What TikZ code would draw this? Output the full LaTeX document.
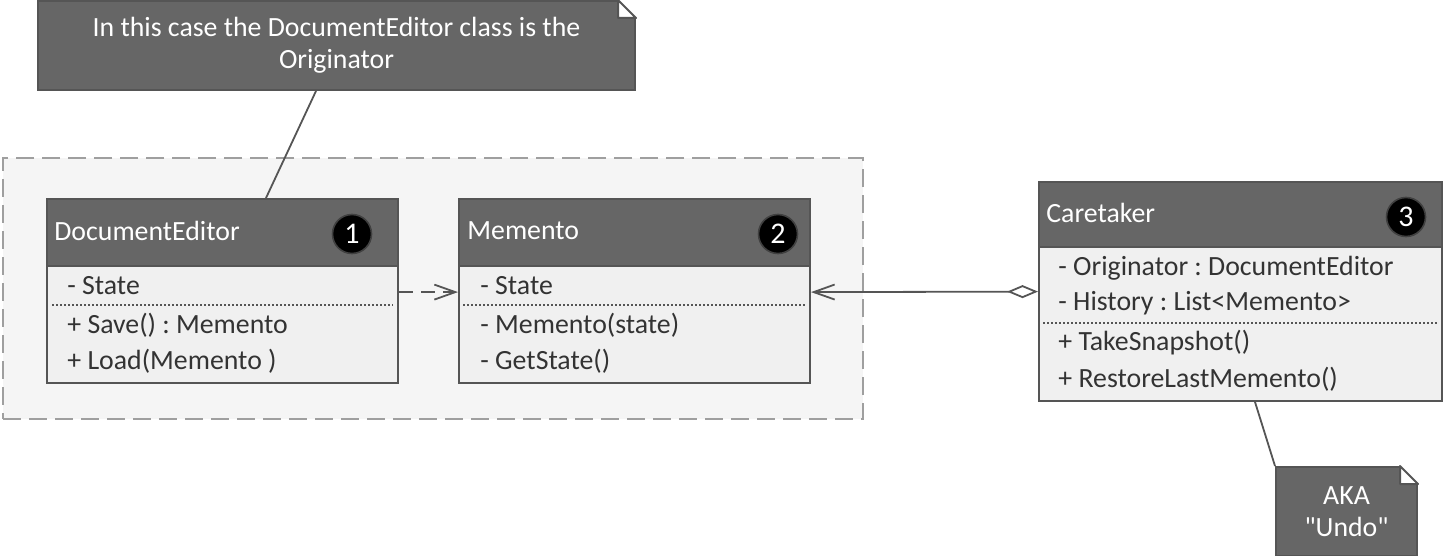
\documentclass[tikz,border=0pt]{standalone}
\usepackage{fontspec}
\setmainfont{Carlito}
\usepackage{tikz}
\usetikzlibrary{arrows.meta}
\usepackage{xcolor}
\definecolor{hdr}{HTML}{666666}
\definecolor{edge}{HTML}{555555}
\definecolor{bodyfill}{HTML}{F0F0F0}
\definecolor{grpfill}{HTML}{F5F5F5}
\definecolor{ink}{HTML}{333333}
\frenchspacing

\tikzset{
  hdrbox/.style={draw=edge, line width=1pt, fill=hdr, anchor=north west, inner sep=0pt},
  bodybox/.style={draw=edge, line width=1pt, fill=bodyfill, anchor=north west, inner sep=0pt},
  title/.style={anchor=west, inner sep=0pt, text=white},
  member/.style={anchor=west, inner sep=0pt, text=ink},
  badge/.style={circle, fill=black, draw=black!75, line width=0.8pt, minimum size=19.5pt, inner sep=0pt, text=white, font=\fontsize{15}{16}\selectfont},
  notebox/.style={draw=edge, line width=1pt, fill=hdr, anchor=north west, inner sep=0pt, text=white, align=center},
  sep/.style={draw=edge, line width=0.6pt, dash pattern=on 1pt off 1pt},
  link/.style={draw=edge, line width=0.9pt},
  barb/.tip={Straight Barb[length=10.5pt, width=7.5pt]},
}

\begin{document}
\begin{tikzpicture}[x=0.5pt, y=-0.5pt, font=\fontsize{13.9}{16}\selectfont]
\useasboundingbox (0,0) rectangle (1444,556);

\node (grp) [draw=gray!75, line width=1pt, dash pattern=on 9pt off 4pt, fill=grpfill,
  anchor=north west, inner sep=0pt, minimum width=430pt, minimum height=130.5pt] at (2,157) {};

\node (de) [hdrbox, minimum width=175.5pt, minimum height=33.5pt] at (46,198) {};
\node (de-body) [bodybox, minimum width=175.5pt, minimum height=58.5pt] at (46,265) {};
\node (de-title) [title] at (54,231) {DocumentEditor};
\node (de-badge) [badge] at (352,234) {1};
\foreach \y/\t [count=\k] in {286/- State, 325/+ Save() : Memento, 361/+ Load(Memento )}
    \node (de-m\k) [member] at (67,\y) {\t};
\draw[sep] (52,305) -- (393,305);

\node (me) [hdrbox, minimum width=175.5pt, minimum height=33.5pt] at (458,198) {};
\node (me-body) [bodybox, minimum width=175.5pt, minimum height=58.5pt] at (458,265) {};
\node (me-title) [title] at (467,231) {Memento};
\node (me-badge) [badge] at (778,234) {2};
\foreach \y/\t [count=\k] in {286/- State, 325/- Memento(state), 361/- GetState()}
    \node (me-m\k) [member] at (480,\y) {\t};
\draw[sep] (463,305) -- (805,305);

\node (ct) [hdrbox, minimum width=201.5pt, minimum height=32.5pt] at (1038,181) {};
\node (ct-body) [bodybox, minimum width=201.5pt, minimum height=77pt] at (1038,246) {};
\node (ct-title) [title] at (1046,213) {Caretaker};
\node (ct-badge) [badge] at (1406,217) {3};
\foreach \y/\t [count=\k] in {268/- Originator : DocumentEditor, 303/- History : List<Memento>,
    343/+ TakeSnapshot(), 379/+ RestoreLastMemento()}
    \node (ct-m\k) [member] at (1058,\y) {\t};
\draw[sep] (1043,323) -- (1437,323);

\node (note) [notebox, minimum width=298.5pt, minimum height=44.5pt] at (37,0)
    {In this case the DocumentEditor class is the\\Originator};
\node (undo) [notebox, minimum width=70.5pt, minimum height=44.5pt] at (1275,466)
    {AKA\\\textquotedbl Undo\textquotedbl};
\foreach \n in {note, undo} {
    \fill[white] ([xshift=-9pt]\n.north east) rectangle ([yshift=-9pt]\n.north east);
    \draw[edge, line width=1pt, line join=round] ([xshift=-9pt]\n.north east) -- ([yshift=-9pt]\n.north east)
        -- ([shift={(-9pt,-9pt)}]\n.north east) -- cycle;
}
%
\draw[link, dash pattern=on 7pt off 4pt, -barb] ([yshift=16.2pt]de-body.east) -- ([yshift=16.2pt]me-body.west);
\draw[link, {Diamond[open, length=15.5pt, width=6.5pt]}-barb] ([yshift=16.2pt]ct-body.west) -- ([yshift=16.2pt]me-body.east);
\draw[link] ([xshift=-10.25pt]note.south) -- ([xshift=21.75pt]de.north);
\draw[link] ([xshift=7.25pt]ct-body.south) -- (undo.north west);
\end{tikzpicture}
\end{document}
